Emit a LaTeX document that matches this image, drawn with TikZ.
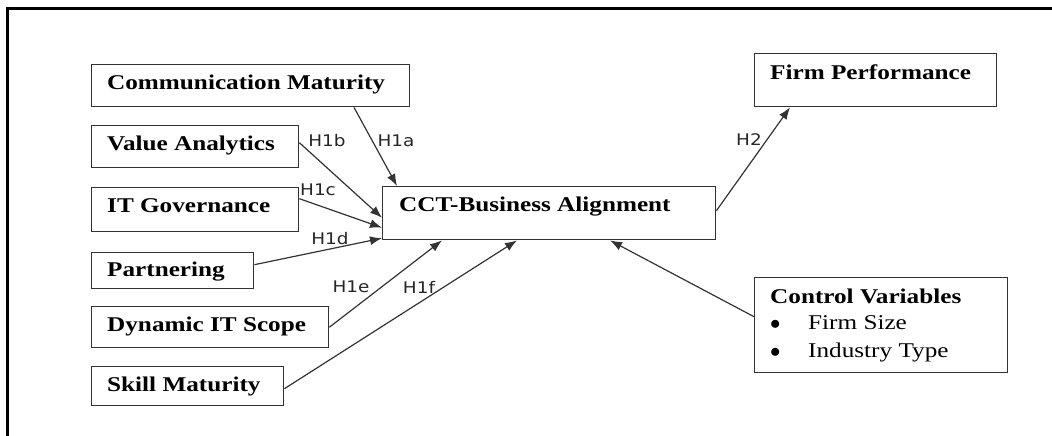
\documentclass[tikz,border=0pt]{standalone}
\usepackage{fontspec}
\usetikzlibrary{arrows.meta}
\newfontfamily\boxfont[FakeStretch=1.2]{Liberation Serif}
\newfontfamily\labfont[FakeStretch=1.15]{DejaVu Sans}
\tikzset{
  box/.style={draw=black!80, line width=1.4pt, rectangle, inner sep=0pt, anchor=north west},
  btxt/.style={anchor=base west, inner sep=0pt, font=\boxfont\fontsize{21}{25}\selectfont\bfseries},
  ctxt/.style={anchor=base west, inner sep=0pt, font=\boxfont\fontsize{21}{25}\selectfont},
  hlab/.style={inner sep=0pt, font=\labfont\fontsize{16}{19}\selectfont, text=black!85},
  conn/.style={draw=black!80, line width=1.2pt, -{Latex[length=12pt,width=9pt]}},
  frame/.style={draw=black, line width=2.5pt}
}
\begin{document}
\begin{tikzpicture}[x=1pt,y=-1pt]
\useasboundingbox (0,0) rectangle (1052,436);
\draw[frame] (7.5,436) -- (7.5,8.5) -- (1052,8.5);
% boxes
\node[box, minimum width=318pt, minimum height=42pt] (cm) at (91,64) {};
\node[box, minimum width=207pt, minimum height=42pt] (va) at (91,125) {};
\node[box, minimum width=207pt, minimum height=44pt] (itg) at (91,187) {};
\node[box, minimum width=162pt, minimum height=36pt] (part) at (91,252) {};
\node[box, minimum width=237pt, minimum height=41pt] (dyn) at (91,306) {};
\node[box, minimum width=192pt, minimum height=39pt] (skill) at (91,366) {};
\node[box, minimum width=333pt, minimum height=53pt] (cct) at (382,186) {};
\node[box, minimum width=242pt, minimum height=53pt] (fp) at (754,53) {};
\node[box, minimum width=253pt, minimum height=95pt] (ctrl) at (754,277) {};
% texts
\node[btxt] (tcm) at (107,89) {Communication Maturity};
\node[btxt] (tva) at (107,150) {Value Analytics};
\node[btxt] (titg) at (107,212) {IT Governance};
\node[btxt] (tpart) at (107,276) {Partnering};
\node[btxt] (tdyn) at (107,331) {Dynamic IT Scope};
\node[btxt] (tskill) at (107,391) {Skill Maturity};
\node[btxt] (tcct) at (399,211) {CCT-Business Alignment};
\node[btxt] (tfp) at (770,79) {Firm Performance};
\node[btxt] (tctrl) at (770,303) {Control Variables};
\node[ctxt] (b1) at (770,329) {$\bullet$};
\node[ctxt] (t1) at (808,329) {Firm Size};
\node[ctxt] (b2) at (770,357) {$\bullet$};
\node[ctxt] (t2) at (808,357) {Industry Type};
% connectors
\draw[conn] ([xshift=263pt]cm.south west) -- ([xshift=15pt]cct.north west);
\draw[conn] ([yshift=4pt]va.east) -- ([yshift=-4.5pt]cct.west);
\draw[conn] ([yshift=11pt]itg.east) -- ([yshift=-14.5pt]cct.west);
\draw[conn] ([yshift=6pt]part.east) -- ([yshift=-25pt]cct.west);
\draw[conn] (dyn.east) -- ([xshift=60pt]cct.south west);
\draw[conn] ([yshift=-2.5pt]skill.east) -- ([xshift=135pt]cct.south west);
\draw[conn] ([yshift=2.5pt]cct.east) -- ([xshift=36pt]fp.south west);
\draw[conn] ([yshift=8.5pt]ctrl.west) -- ([xshift=228pt]cct.south west);
% labels
\node[hlab] (h1a) at (396,141) {H1a};
\node[hlab] (h1b) at (327,141) {H1b};
\node[hlab] (h1c) at (318,190) {H1c};
\node[hlab] (h1d) at (330,239) {H1d};
\node[hlab] (h1e) at (351,287) {H1e};
\node[hlab] (h1f) at (419,287) {H1f};
\node[hlab] (h2) at (749,140) {H2};
\end{tikzpicture}
\end{document}
